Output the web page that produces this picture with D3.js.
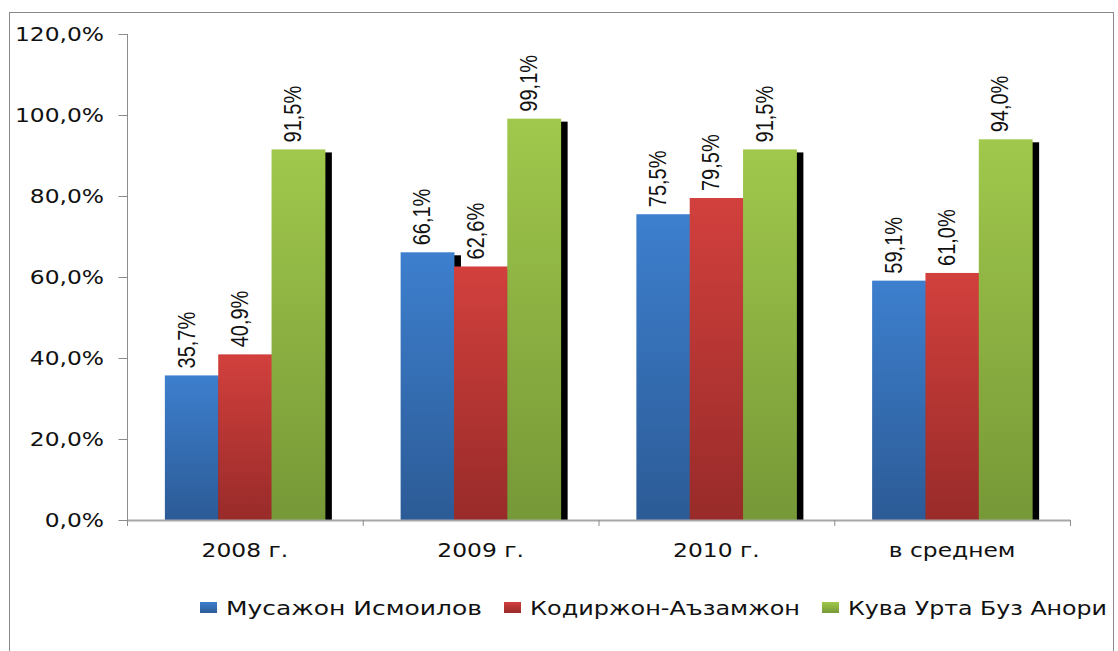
<!DOCTYPE html>
<html>
<head>
<meta charset="utf-8">
<script src="https://cdn.jsdelivr.net/npm/d3@7"></script>
<style>
  body { margin: 0; background: #fff; }
  svg { display: block; }
</style>
</head>
<body>
<svg id="svg" width="1118" height="651"></svg>
<script>
const w = 1118;
const h = 651;

// data
const categories = ["2008 г.", "2009 г.", "2010 г.", "в среднем"];
const seriesNames = ["Мусажон Исмоилов", "Кодиржон-Аъзамжон", "Кува Урта Буз Анори"];
const musazhon = [35.7, 66.1, 75.5, 59.1];
const kodirzhon = [40.9, 62.6, 79.5, 61.0];
const kuva = [91.5, 99.1, 91.5, 94.0];
const yTicks = [0, 20, 40, 60, 80, 100, 120];

const seriesValues = [musazhon, kodirzhon, kuva];
const colors = [
  ["#3d7fce", "#2c5b96"],
  ["#d2403d", "#982b29"],
  ["#a0c84c", "#779837"]
];
// legend text widths as they look in the original
const legendTextW = [256, 270, 259];

// the reference is stretched sideways a bit
const SX = 1.23;
const fmt = (d) => d3.format(".1f")(d).replace(".", ",") + "%";

let svg = d3.select("#svg");

// gradients
let defs = svg.append("defs");
colors.forEach((c, i) => {
  let g = defs.append("linearGradient")
    .attr("id", "grad" + i)
    .attr("x1", 0).attr("y1", 0).attr("x2", 0).attr("y2", 1);
  g.append("stop").attr("offset", "0%").attr("stop-color", c[0]);
  g.append("stop").attr("offset", "100%").attr("stop-color", c[1]);
});

// outer frame
svg.append("rect")
  .attr("x", 9.5).attr("y", 12.5)
  .attr("width", 1104).attr("height", 660)
  .attr("fill", "none")
  .attr("stroke", "#8a8a8a");

let xScale = d3.scaleBand(categories, [127, 1070]);
let xInner = d3.scaleBand(d3.range(3), [0, xScale.bandwidth()]).paddingOuter(0.71);
let yScale = d3.scaleLinear([0, 120], [520, 34]);

// rows of bar data
let bars = [];
categories.forEach((c, ci) => {
  seriesValues.forEach((vals, si) => {
    bars.push({ cat: c, s: si, v: vals[ci] });
  });
});

const bx = (d) => xScale(d.cat) + xInner(d.s);

// shadows first
svg.append("g").selectAll("rect")
  .data(bars)
  .join("rect")
  .attr("x", (d) => bx(d) + 7)
  .attr("y", (d) => yScale(d.v) + 3)
  .attr("width", xInner.bandwidth())
  .attr("height", (d) => yScale(0) - yScale(d.v) - 3)
  .attr("fill", "#000");

svg.append("g").selectAll("rect")
  .data(bars)
  .join("rect")
  .attr("x", bx)
  .attr("y", (d) => yScale(d.v))
  .attr("width", xInner.bandwidth() + 0.5)
  .attr("height", (d) => yScale(0) - yScale(d.v))
  .attr("fill", (d) => "url(#grad" + d.s + ")");

// y axis
let yAxis = svg.append("g")
  .attr("transform", "translate(127,0)")
  .call(d3.axisLeft(yScale).tickValues(yTicks).tickFormat(fmt).tickSize(9).tickPadding(14));
yAxis.select(".domain").attr("stroke", "#8c8c8c").attr("d", "M0.5,34V526");
yAxis.selectAll(".tick line").attr("stroke", "#8c8c8c").attr("transform", "translate(0.5,0)");
yAxis.selectAll("text")
  .attr("x", -23 / SX)
  .attr("transform", `scale(${SX},1)`)
  .attr("font-family", "DejaVu Sans")
  .attr("font-size", 19)
  .attr("fill", "#111");

// x axis
let xAxis = svg.append("g")
  .attr("transform", "translate(0,520)")
  .call(d3.axisBottom(xScale).tickSize(0).tickPadding(24));
xAxis.select(".domain").attr("stroke", "#a8a8a8").attr("stroke-width", 2);
xAxis.selectAll("text")
  .attr("transform", `scale(${SX},1)`)
  .attr("font-family", "DejaVu Sans")
  .attr("font-size", 19)
  .attr("fill", "#111");

// boundary ticks between categories
svg.append("g").selectAll("line")
  .data(d3.range(categories.length + 1))
  .join("line")
  .attr("x1", (i) => xScale.range()[0] + i * xScale.step() + 0.5)
  .attr("x2", (i) => xScale.range()[0] + i * xScale.step() + 0.5)
  .attr("y1", 520)
  .attr("y2", 526)
  .attr("stroke", "#8c8c8c");

// value labels
svg.append("g").selectAll("text")
  .data(bars)
  .join("text")
  .attr("transform", (d) => {
    let cx = bx(d) + xInner.bandwidth() / 2 + 3;
    let cy = yScale(d.v) - 7;
    return `translate(${cx},${cy}) scale(${SX},1) rotate(-90)`;
  })
  .attr("font-family", "Liberation Sans, Arial, sans-serif")
  .attr("font-size", 20)
  .attr("fill", "#111")
  .text((d) => fmt(d.v));

// legend
let legend = svg.append("g").attr("transform", "translate(200,0)");
let lx = 0;
seriesNames.forEach((name, i) => {
  legend.append("rect")
    .attr("x", lx).attr("y", 602)
    .attr("width", 17).attr("height", 11)
    .attr("fill", "url(#grad" + i + ")");
  legend.append("text")
    .attr("x", lx + 26)
    .attr("y", 615)
    .attr("textLength", legendTextW[i])
    .attr("lengthAdjust", "spacingAndGlyphs")
    .attr("font-family", "DejaVu Sans")
    .attr("font-size", 19)
    .attr("fill", "#111")
    .text(name);
  lx += 26 + legendTextW[i] + 22;
});
</script>
</body>
</html>
